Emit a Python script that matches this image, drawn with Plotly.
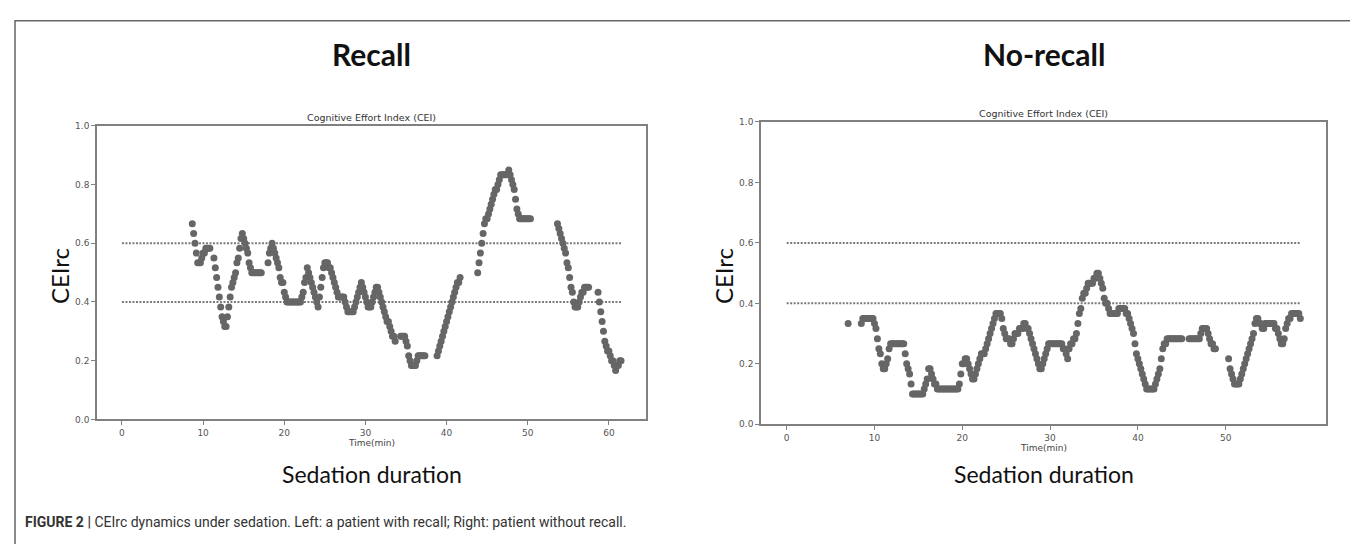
import plotly.graph_objects as go

W, H = 1358, 544

# ---------------- data ----------------
dt_min = 1 / 6          # one sample every 10 s
cei_unit = 1 / 60       # CEI values are read in 1/60 steps

recall_start = 52       # first sample index (t = index * dt_min)
recall_cei60 = [
    40, 38, 36, 34, 32, 32, 32, 33, 34, 34, 35, 35, 35, 35, None, None,
    33, 31, 29, 27, 25, 23, 21, 20, 19, 19, 21, 23, 25, 27, 28, 29, 30, 32,
    33, 35, 37, 38, 37, 36, 35, 34, 32, 31, 30, 30, 30, 30, 30, 30, 30, 30,
    None, None, None, None,
    32, 34, 35, 36, 35, 34, 33, 32, 31, 29, 28, 28, 26, 25, 24,
    24, 24, 24, 24, 24, 24, 24, 24, 24, 24,
    25, 26, 28, 29, 31, 30, 29, 28, 27, 26, 25, 24, 23, 25, 27, 29, 31, 32,
    32, 32, 31, 31, 30, 29, 28, 27, 26, 25, 25, 25, 25, 25, 24, 23, 22, 22,
    22, 22, 22, 23, 24, 25, 26, 27, 28, 27, 26, 25, 24, 23, 23, 23, 24, 25,
    26, 27, 27, 26, 25, 24, 23, 22, 21, 20, 20, 19, 18, 17, 17, 16,
    None, None, None,
    17, 17, 17, 17, 16, 15, 13, 12, 11, 11, 11, 11, 12, 13, 13, 13, 13, 13, 13,
    None, None, None, None, None, None, None, None,
    13, 14, 15, 16, 17, 18, 19, 20, 21, 22, 23, 24, 25, 26, 27, 28, 28, 29,
    None, None, None, None, None, None, None, None, None, None, None, None,
    30, 32, 34, 36, 38, 40, 41, 41, 42, 43, 44, 45, 46, 47, 47, 48, 49, 50,
    50, 50, 50, 50, 50, 51, 50, 49, 48, 47, 45, 43, 42, 41, 41, 41, 41, 41,
    41, 41, 41, 41,
    None, None, None, None, None, None, None, None, None, None, None, None,
    None, None, None, None, None, None, None,
    40, 39, 38, 37, 36, 35, 34, 32, 31, 29, 27, 26, 24, 23, 23, 23, 24, 25,
    26, 26, 27, 27, 27, 27,
    None, None, None, None, None, None,
    26, 24, 22, 20, 18, 16, 15, 14, 14, 13, 12, 12, 11, 10, 11, 11, 12, 12,
]

norecall_start = 42
norecall_cei60 = [
    20, None, None, None, None, None, None, None, None,
    20, 21, 21, 21, 21, 21, 21, 21, 21, 20, 19, 17, 15, 14, 12, 11, 11, 12,
    13, 15, 16, 16, 16, 16, 16, 16, 16, 16, 16, 16, 14, 12, 11, 10, 8,
    6, 6, 6, 6, 6, 6, 6, 6, 7, 8, 9, 11, 11, 10, 9, 8, 8,
    7, 7, 7, 7, 7, 7, 7, 7, 7, 7, 7, 7, 7, 7, 7,
    8, 10, 12, 12, 13, 13, 12, 11, 10, 9, 9, 10, 11, 12, 13, 14, 14, 14, 15,
    16, 17, 18, 19, 20, 21, 22, 22, 22, 22, 21, 19, 18, 17, 17, 17, 16, 16,
    17, 18, 18, 18, 19, 19, 19, 20, 20, 19, 19, 18, 17, 16, 15, 14, 13, 12,
    11, 11, 12, 13, 14, 15, 16, 16, 16, 16, 16, 16, 16, 16, 16, 16, 15, 15,
    14, 13, 15, 16, 16, 17, 17, 18, 20, 22, 23, 25, 26, 26, 27, 28, 28, 28,
    28, 29, 29, 30, 30, 29, 28, 27, 25, 24, 24, 23, 22, 22, 22, 22, 22, 22,
    23, 23, 23, 23, 23, 22, 22, 21, 20, 19, 18, 16, 14, 13, 12, 11, 10, 9,
    8, 7, 7, 7, 7, 7, 7, 8, 9, 10, 11, 13, 15, 16, 16,
    17, 17, 17, 17, 17, 17, 17, 17, 17, 17, 17,
    None, None, None, None,
    17, 17, 17, 17, 17, 17, 17, 17, 18, 19, 19, 19, 19, 18, 17, 16, 16, 15, 15,
    None, None, None, None, None, None, None, None,
    13, 11, 10, 9, 8, 8, 8, 8, 9, 10, 11, 12, 13, 14, 15, 16, 17, 18, 20,
    21, 21, 20, 20, 19, 19, 20, 20, 20, 20, 20, 20, 20, 19, 19, 18, 17, 16,
    16, 17, 19, 20, 21, 21, 22, 22, 22, 22, 22, 22, 21,
]

thresholds = [0.4, 0.6]
y_ticks = [0.0, 0.2, 0.4, 0.6, 0.8, 1.0]
recall_x_ticks = [0, 10, 20, 30, 40, 50, 60]
norecall_x_ticks = [0, 10, 20, 30, 40, 50]

panel_titles = ["Recall", "No-recall"]
plot_title = "Cognitive Effort Index (CEI)"
x_title = "Time(min)"
y_big_label = "CEIrc"
x_big_label = "Sedation duration"
caption_bold = "FIGURE 2 |"
caption_text = " CEIrc dynamics under sedation. Left: a patient with recall; Right: patient without recall."


def series(start, vals):
    xs = [(start + i) * dt_min for i in range(len(vals))]
    ys = [None if v is None else v * cei_unit for v in vals]
    return xs, ys


rx, ry = series(recall_start, recall_cei60)
nx, ny = series(norecall_start, norecall_cei60)
r_last = max(x for x, y in zip(rx, ry) if y is not None)
n_last = max(x for x, y in zip(nx, ny) if y is not None)

# ---------------- figure ----------------
fig = go.Figure()
DOT = "#666666"
GRID = "#808080"

for th in thresholds:
    fig.add_trace(go.Scatter(x=[0, r_last], y=[th, th], mode="lines",
                             line=dict(color="#7a7a7a", width=2, dash="2px,1.5px"),
                             xaxis="x", yaxis="y", hoverinfo="skip", showlegend=False))
    fig.add_trace(go.Scatter(x=[0, n_last], y=[th, th], mode="lines",
                             line=dict(color="#7a7a7a", width=2, dash="2px,1.5px"),
                             xaxis="x2", yaxis="y2", hoverinfo="skip", showlegend=False))

fig.add_trace(go.Scatter(x=rx, y=ry, mode="markers",
                         marker=dict(color=DOT, size=7, line=dict(width=0)),
                         xaxis="x", yaxis="y", showlegend=False))
fig.add_trace(go.Scatter(x=nx, y=ny, mode="markers",
                         marker=dict(color=DOT, size=7, line=dict(width=0)),
                         xaxis="x2", yaxis="y2", showlegend=False))

tickfont = dict(family="DejaVu Sans", size=9, color="#555555")
axis_common = dict(showgrid=False, zeroline=False, showline=True, mirror=True,
                   linecolor=GRID, linewidth=1.5, ticks="outside", ticklen=4,
                   tickcolor=GRID, tickwidth=1, tickfont=tickfont)

# pixel boxes of the two plot areas
L = dict(x0=89, x1=638, y0=115, y1=414)
R = dict(x0=753, x1=1318, y0=111, y1=419)


def dom_x(b):
    return [b["x0"] / W, b["x1"] / W]


def dom_y(b):
    return [(H - b["y1"]) / H, (H - b["y0"]) / H]


fig.update_layout(
    width=W, height=H, margin=dict(l=0, r=0, t=0, b=0),
    paper_bgcolor="white", plot_bgcolor="white",
    xaxis=dict(domain=dom_x(L), range=[-0.05 * r_last, 1.05 * r_last],
               tickvals=recall_x_ticks, anchor="y", **axis_common),
    yaxis=dict(domain=dom_y(L), range=[0, 1], tickvals=y_ticks,
               tickformat=".1f", anchor="x", **axis_common),
    xaxis2=dict(domain=dom_x(R), range=[-0.05 * n_last, 1.05 * n_last],
                tickvals=norecall_x_ticks, anchor="y2", **axis_common),
    yaxis2=dict(domain=dom_y(R), range=[0, 1], tickvals=y_ticks,
                tickformat=".1f", anchor="x2", **axis_common),
)


def ann(text, x, y, size, family, color="#111111", bold=False, angle=0,
        xanchor="center"):
    if bold:
        text = "<b>" + text + "</b>"
    fig.add_annotation(text=text, x=x / W, y=1 - y / H, xref="paper", yref="paper",
                       showarrow=False, textangle=angle, xanchor=xanchor,
                       yanchor="middle",
                       font=dict(size=size, family=family, color=color))


title_font = "Lato, Carlito, Open Sans, sans-serif"
for b, t in zip([L, R], panel_titles):
    cx = (b["x0"] + b["x1"]) / 2
    ann(t, cx, 42, 30, title_font, bold=True)
    ann(plot_title, cx, b["y0"] - 9, 9.5, "DejaVu Sans", color="#333333")
    ann(x_title, cx, b["y1"] + 24, 9, "DejaVu Sans", color="#444444")
    ann(x_big_label, cx, 470, 23, title_font)
    ann(y_big_label, b["x0"] - 38, 268, 24, title_font, angle=-90)

fig.add_annotation(text="<b>" + caption_bold + "</b>" + caption_text,
                   x=15 / W, y=1 - 519 / H, xref="paper", yref="paper",
                   showarrow=False, xanchor="left", yanchor="middle",
                   font=dict(size=14, family="Liberation Sans Narrow, Roboto, Liberation Sans",
                             color="#333333"))

# outer frame of the figure panel
fig.add_shape(type="rect", xref="paper", yref="paper",
              x0=7 / W, x1=1356 / W, y0=-0.02, y1=1 - 8 / H,
              line=dict(color="#666666", width=1.5), fillcolor="rgba(0,0,0,0)")

fig.write_html("out.html")
